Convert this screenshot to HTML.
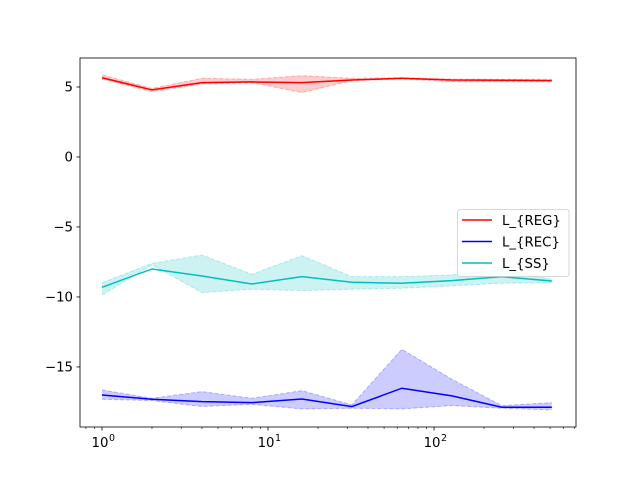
<!DOCTYPE html>
<html><head><meta charset="utf-8"><style>
html,body{margin:0;padding:0;background:#fff;}
svg{display:block;font-family:"DejaVu Sans","Liberation Sans",sans-serif;}
</style></head><body>
<svg id="chart" width="640" height="480"></svg>
<script>
const xs = [1,2,4,8,16,32,64,128,256,512];
const regMean = [5.66,4.79,5.31,5.36,5.31,5.5,5.62,5.5,5.48,5.45];
const regUpper = [5.86,4.9,5.62,5.55,5.81,5.62,5.66,5.57,5.55,5.55];
const regLower = [5.57,4.67,5.21,5.31,4.6,5.45,5.57,5.38,5.38,5.38];
const recMean = [-17.0,-17.31,-17.48,-17.55,-17.29,-17.83,-16.52,-17.07,-17.88,-17.88];
const recUpper = [-16.64,-17.24,-16.76,-17.24,-16.69,-17.71,-13.74,-15.88,-17.76,-17.55];
const recLower = [-17.31,-17.4,-17.83,-17.67,-18.0,-17.95,-18.0,-17.76,-17.95,-18.07];
const ssMean = [-9.31,-8.0,-8.5,-9.07,-8.55,-8.95,-9.02,-8.83,-8.55,-8.86];
const ssUpper = [-8.98,-7.6,-7.0,-8.38,-7.05,-8.55,-8.55,-8.43,-8.0,-8.74];
const ssLower = [-9.86,-7.71,-9.69,-9.45,-9.55,-9.45,-9.38,-9.21,-9.02,-8.98];
const yTicks = [5,0,-5,-10,-15];
const yTickLabels = ["5","0","\u22125","\u221210","\u221215"];
const xMajor = [1,10,100];
const xMajorLabels = [["10","0"],["10","1"],["10","2"]];

const NS="http://www.w3.org/2000/svg";
const svg=document.getElementById('chart');
const L=80,R=576,T=58,B=427;
const xmin=-0.1325,xmax=2.855,ymin=-19.29,ymax=7.07;
function X(v){return L+(Math.log10(v)-xmin)/(xmax-xmin)*(R-L);}
function Y(v){return B-(v-ymin)/(ymax-ymin)*(B-T);}
function mk(tag,attrs,parent){const e=document.createElementNS(NS,tag);for(const k in attrs)e.setAttribute(k,attrs[k]);(parent||svg).appendChild(e);return e;}

const series=[
 {name:'reg',color:'#ff0000',m:regMean,u:regUpper,l:regLower,label:'L_{REG}'},
 {name:'rec',color:'#0000ff',m:recMean,u:recUpper,l:recLower,label:'L_{REC}'},
 {name:'ss',color:'#00bfbf',m:ssMean,u:ssUpper,l:ssLower,label:'L_{SS}'}
];
series.forEach(s=>{
  const up=xs.map((x,i)=>X(x)+','+Y(s.u[i]));
  const lo=xs.map((x,i)=>X(x)+','+Y(s.l[i]));
  const band=mk('polygon',{points:up.concat(lo.slice().reverse()).join(' '),fill:s.color,'fill-opacity':0.2,stroke:'none'});
  
  
  [up,lo].forEach((pts,j)=>{
    const e=mk('polyline',{points:pts.join(' '),fill:'none',stroke:s.color,'stroke-opacity':0.25,'stroke-width':1,'stroke-dasharray':'4,2'});
    
    
  });
  const ln=mk('polyline',{points:xs.map((x,i)=>X(x)+','+Y(s.m[i])).join(' '),fill:'none',stroke:s.color,'stroke-width':1.5});
  
  
});

// axes frame
const fr=mk('rect',{x:L,y:T,width:R-L,height:B-T,fill:'none',stroke:'#000','stroke-width':0.8});



// y ticks
yTicks.forEach((v,i)=>{
  const y=Y(v);
  mk('line',{x1:L-3.5,x2:L,y1:y,y2:y,stroke:'#000','stroke-width':0.8});
  const t=mk('text',{x:L-7,y:y+4.5,'text-anchor':'end','font-size':13.3,fill:'#000'});
  t.textContent=yTickLabels[i];
  
  
});
// x minor ticks
for(let d=-1;d<=2;d++){for(let k=2;k<=9;k++){const v=k*Math.pow(10,d);const lv=Math.log10(v);if(lv<xmin||lv>xmax)continue;const x=X(v);mk('line',{x1:x,x2:x,y1:B,y2:B+2,stroke:'#000','stroke-width':0.6});}}
xMajor.forEach((v,i)=>{
  const x=X(v);
  mk('line',{x1:x,x2:x,y1:B,y2:B+3.5,stroke:'#000','stroke-width':0.8});
  const t=mk('text',{x:x-2,y:B+20,'text-anchor':'middle','font-size':13.3,fill:'#000'});
  t.textContent=xMajorLabels[i][0];
  
  
  const s=mk('text',{x:x+7,y:B+14,'text-anchor':'start','font-size':9.5,fill:'#000'});
  s.textContent=xMajorLabels[i][1];
  
  
});

// legend
const lg=mk('g',{});


mk('rect',{x:457.5,y:209.5,width:111.5,height:67,rx:2.5,fill:'#fff','fill-opacity':0.8,stroke:'#ccc','stroke-width':0.8},lg);
series.forEach((s,i)=>{
  const y=220+i*21.5;
  const g=mk('g',{},lg);
  
  
  mk('line',{x1:462,x2:492,y1:y,y2:y,stroke:s.color,'stroke-width':1.5},g);
  const t=mk('text',{x:502,y:y+4.8,'font-size':13.3,fill:'#000'},g);
  t.textContent=s.label;
});
</script>
</body></html>
